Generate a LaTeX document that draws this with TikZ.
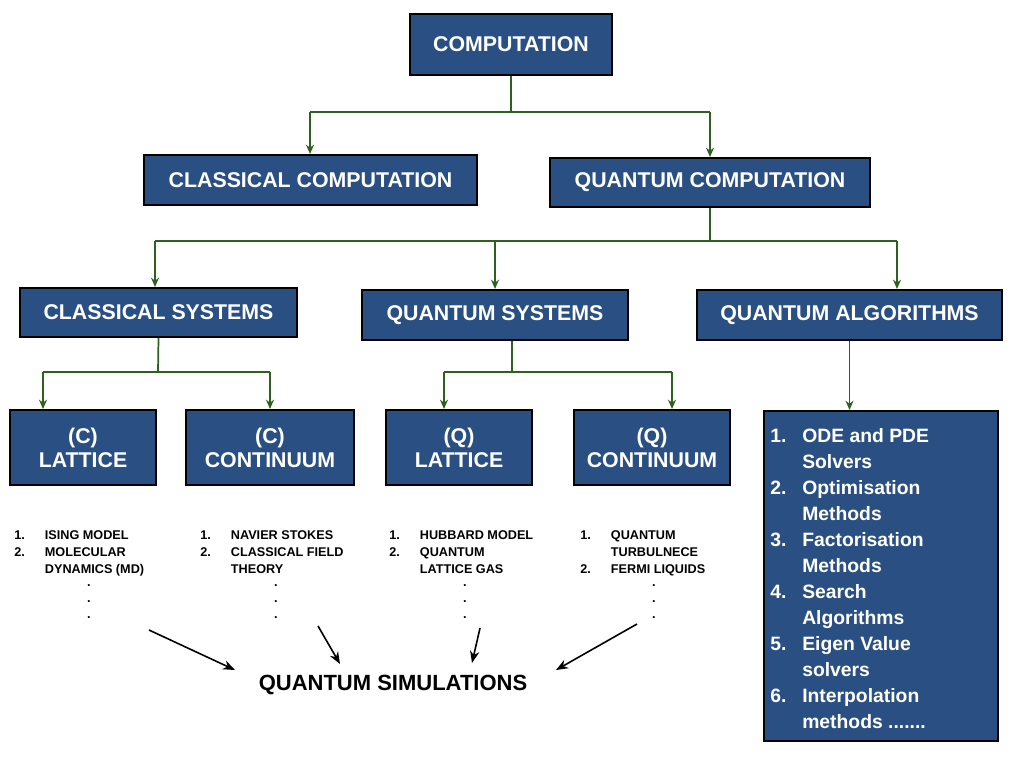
\documentclass[tikz,border=0pt]{standalone}
\usepackage{fontspec}
\setmainfont{Liberation Sans}
\usetikzlibrary{arrows.meta}
\definecolor{boxblue}{HTML}{2A4F82}
\definecolor{conn}{HTML}{2E6020}
\begin{document}
\begin{tikzpicture}[x=0.75pt,y=-0.75pt,
  box/.style={draw=black,line width=1.5pt,fill=boxblue,text=white,font=\bfseries\fontsize{16}{18}\selectfont,inner sep=0pt,align=center},
  g/.style={draw=conn,line width=1.3pt,-{Stealth[length=7pt,width=6pt]}},
  gl/.style={draw=conn,line width=1.3pt},
  blk/.style={draw=black,line width=1.2pt,-{Stealth[length=9pt,width=7pt]}},
  lst/.style={font=\bfseries\fontsize{9.5}{12.75}\selectfont,anchor=north west,inner sep=0pt,align=left},
  dots/.style={font=\bfseries\fontsize{9.5}{12}\selectfont,align=center,inner sep=0pt}]
\useasboundingbox (0,0) rectangle (1024,768);
\node[box,minimum width=202*0.75pt,minimum height=61*0.75pt] (comp) at (511,44.5) {COMPUTATION};
\node[box,minimum width=333*0.75pt,minimum height=50*0.75pt] (cc) at (310.5,180) {CLASSICAL COMPUTATION};
\node[box,minimum width=320*0.75pt,minimum height=49*0.75pt] (qc) at (710,182.5) {QUANTUM COMPUTATION};
\node[box,minimum width=277*0.75pt,minimum height=49*0.75pt] (cs) at (158.5,312.5) {CLASSICAL SYSTEMS};
\node[box,minimum width=266*0.75pt,minimum height=50*0.75pt] (qs) at (495,315) {QUANTUM SYSTEMS};
\node[box,minimum width=305*0.75pt,minimum height=50*0.75pt] (qa) at (849.5,315) {QUANTUM ALGORITHMS};
\node[box,minimum width=146*0.75pt,minimum height=75*0.75pt] (cl) at (83,447.5) {(C)\\LATTICE};
\node[box,minimum width=168*0.75pt,minimum height=75*0.75pt] (ccn) at (270,447.5) {(C)\\CONTINUUM};
\node[box,minimum width=146*0.75pt,minimum height=75*0.75pt] (ql) at (459,447.5) {(Q)\\LATTICE};
\node[box,minimum width=156*0.75pt,minimum height=75*0.75pt] (qcn) at (652,447.5) {(Q)\\CONTINUUM};
\node[box,minimum width=234*0.75pt,minimum height=330*0.75pt,anchor=north west] (alg) at (763,410) {};
\node[anchor=north west,text=white,font=\bfseries\fontsize{14.5}{19.5}\selectfont,inner sep=0pt,align=left] (algt) at (770,424)
{\begin{tabular}{@{}p{24pt}@{}l@{}}
1.&ODE and PDE\\ &Solvers\\
2.&Optimisation\\ &Methods\\
3.&Factorisation\\ &Methods\\
4.&Search\\ &Algorithms\\
5.&Eigen Value\\ &solvers\\
6.&Interpolation\\ &methods .......
\end{tabular}};
% green connectors
\draw[gl] (comp.south) -- (511,112);
\draw[g] (310,112) -- (cc.north-|310,0);
\draw[g] (710,112) -- (qc.north);
\draw[gl] (310,112) -- (710,112);
\draw[gl] (qc.south) -- (710,241);
\draw[gl] (155,241) -- (897,241);
\draw[g] (155,241) -- (cs.north-|155,0);
\draw[g] (495,241) -- (qs.north);
\draw[g] (897,241) -- (qa.north-|897,0);
\draw[gl] (cs.south) -- (158,372);
\draw[gl] (43,372) -- (270,372);
\draw[g] (43,372) -- (cl.north-|43,0);
\draw[g] (270,372) -- (ccn.north);
\draw[gl] (qs.south-|512,0) -- (512,372);
\draw[gl] (444,372) -- (672,372);
\draw[g] (444,372) -- (ql.north-|444,0);
\draw[g] (672,372) -- (qcn.north-|672,0);
\draw[g] (qa.south) -- (alg.north-|qa.south);
% lists
\node[lst] (l1) at (14,527) {\begin{tabular}{@{}p{23pt}@{}l@{}}1.&ISING MODEL\\2.&MOLECULAR\\ &DYNAMICS (MD)\end{tabular}};
\node[lst] (l2) at (200,527) {\begin{tabular}{@{}p{23pt}@{}l@{}}1.&NAVIER STOKES\\2.&CLASSICAL FIELD\\ &THEORY\end{tabular}};
\node[lst] (l3) at (389,527) {\begin{tabular}{@{}p{23pt}@{}l@{}}1.&HUBBARD MODEL\\2.&QUANTUM\\ &LATTICE GAS\end{tabular}};
\node[lst] (l4) at (580,527) {\begin{tabular}{@{}p{23pt}@{}l@{}}1.&QUANTUM\\ &TURBULNECE\\2.&FERMI LIQUIDS\end{tabular}};
\foreach \n/\x in {d1/89,d2/276,d3/465,d4/654}{
  \node[dots] (\n) at (\x,602) {.\\.\\.};}
\node[font=\bfseries\fontsize{16.5}{18}\selectfont,inner sep=0pt] (sim) at (393,685) {QUANTUM SIMULATIONS};
\coordinate (s1) at (149,630); \coordinate (s2) at (318,626);
\coordinate (s3) at (480,628); \coordinate (s4) at (637,624);
\coordinate (t1) at (235,670); \coordinate (t2) at (340,664);
\coordinate (t3) at (472,663); \coordinate (t4) at (556,670);
\draw[blk] (s1) -- (t1);
\draw[blk] (s2) -- (t2);
\draw[blk] (s3) -- (t3);
\draw[blk] (s4) -- (t4);
\end{tikzpicture}
\end{document}
